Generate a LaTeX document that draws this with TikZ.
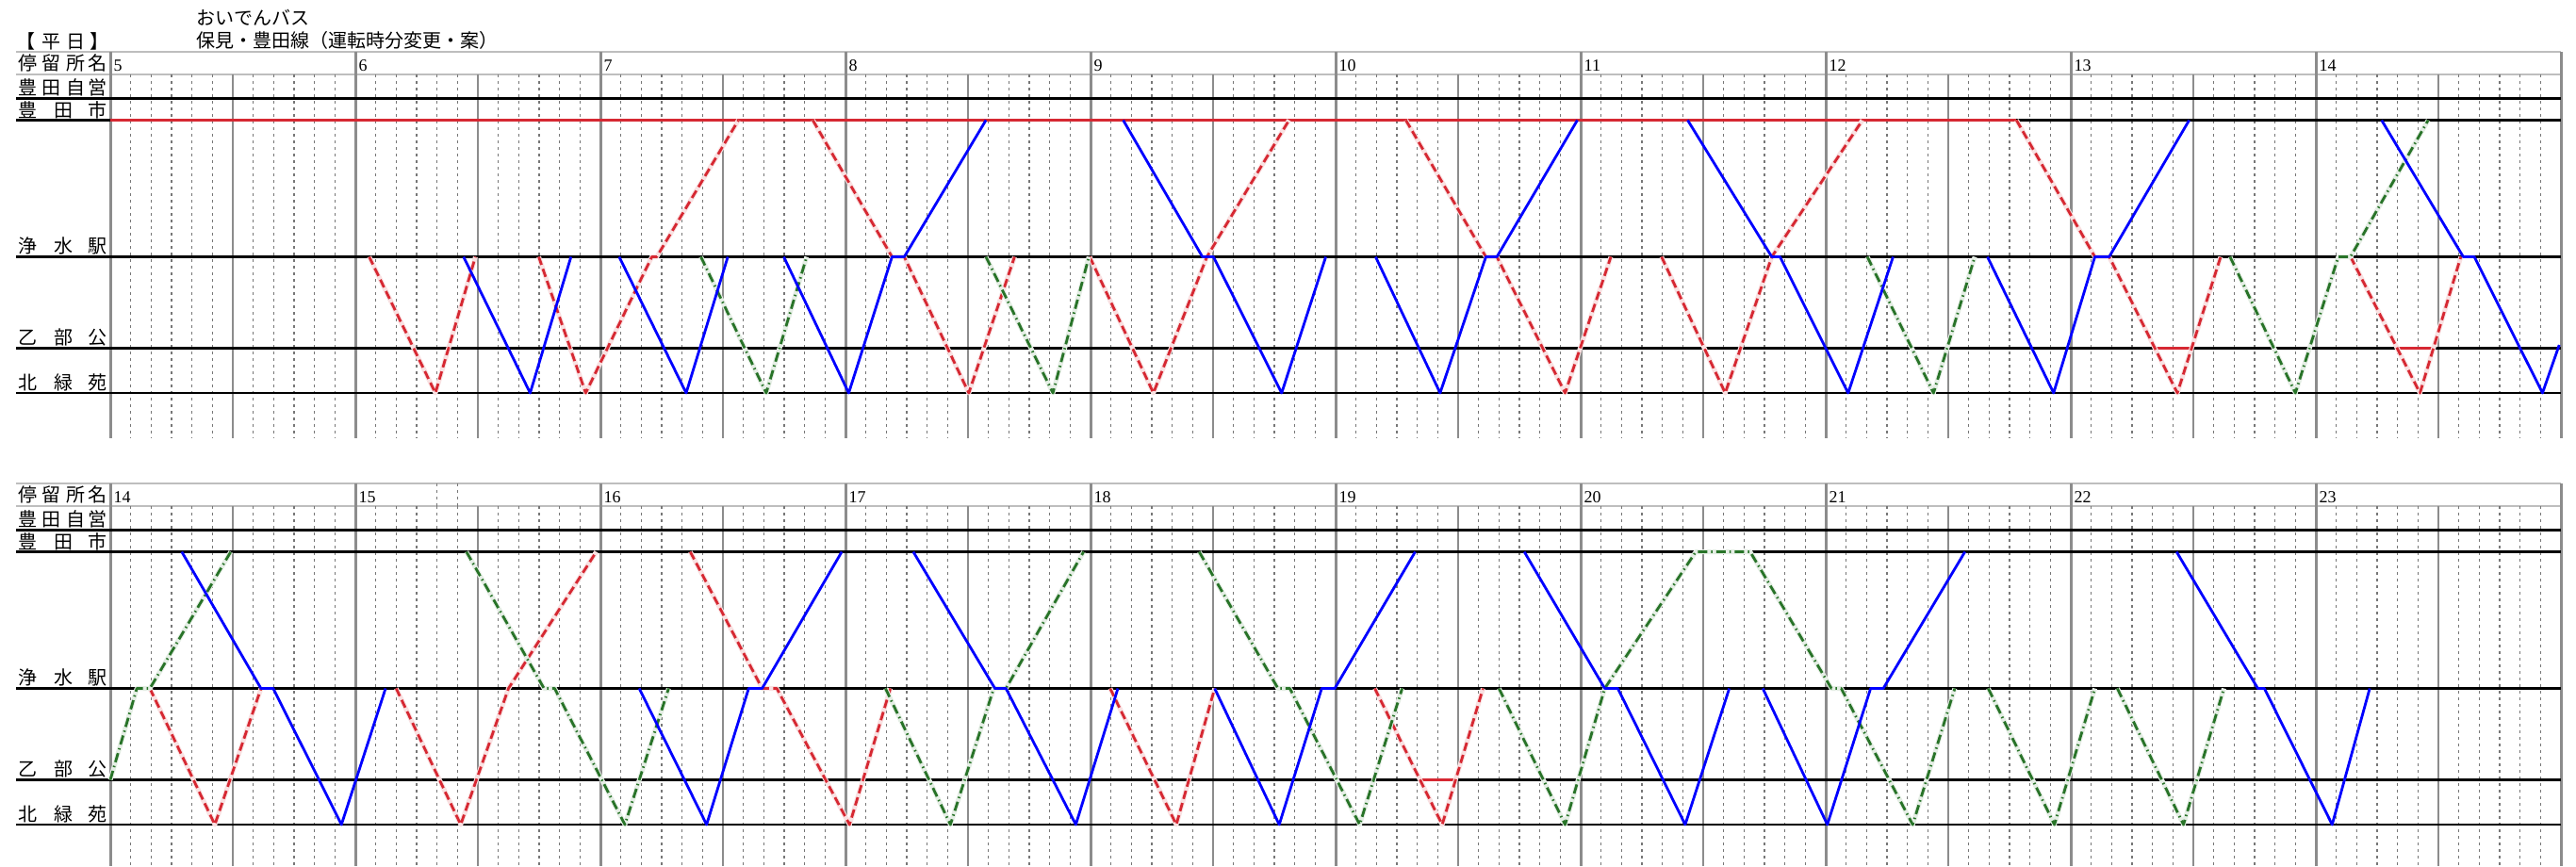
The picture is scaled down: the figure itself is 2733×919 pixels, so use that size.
\documentclass[tikz,border=0pt]{standalone}
\usepackage{fontspec}
\newfontfamily\jpf{Noto Sans CJK JP}
\newfontfamily\numf{Liberation Serif}
\definecolor{tripred}{RGB}{214,40,50}
\definecolor{tripgreen}{RGB}{40,115,40}
\definecolor{gridgray}{RGB}{140,140,140}
\definecolor{hdrgray}{RGB}{190,190,190}
\tikzset{
  jptext/.style={font=\jpf\fontsize{2.0mm}{2.3mm}\selectfont, inner sep=0pt, anchor=base},
  hournum/.style={font=\numf\fontsize{1.8mm}{2mm}\selectfont, inner sep=0pt, anchor=base west},
  hourline/.style={draw=gridgray, line width=0.3mm},
  halfline/.style={draw=gridgray, line width=0.16mm},
  dotline/.style={draw=gridgray!85!black, line width=0.13mm, dash pattern=on 0.27mm off 0.43mm},
  hdrline/.style={draw=hdrgray, line width=0.2mm},
  stline/.style={draw=black, line width=0.26mm},
  redstline/.style={draw=tripred, line width=0.26mm},
  bluetrip/.style={draw=blue, line width=0.28mm, line join=round},
  redtrip/.style={draw=tripred, line width=0.28mm, dash pattern=on 0.9mm off 0.45mm, line join=round},
  greentrip/.style={draw=tripgreen, line width=0.28mm, dash pattern=on 1.0mm off 0.4mm on 0.15mm off 0.4mm, line join=round},
  redhalo/.style={draw=tripred!14, line width=0.5mm, line join=round},
  greenhalo/.style={draw=tripgreen!12, line width=0.5mm, line join=round},
}
\def\yT{127.5}
\def\yJ{272.5}
\def\yO{369.5}
\def\yK{417}
\newcommand\rtrip[1]{\draw[redhalo] #1; \draw[redtrip] #1;}
\newcommand\gtrip[1]{\draw[greenhalo] #1; \draw[greentrip] #1;}
\newcommand\btrip[1]{\draw[bluetrip] #1;}
% #1 prefix, #2 first hour, #3 bottom y
\newcommand\gridpanel[3]{%
  \draw[hdrline] (17,55) -- (2717,55);
  \draw[hdrline] (17,79) -- (2717,79);
  \foreach \h in {0,...,9}{
    \foreach \k in {1,2,3,4,5,7,8,9,10,11}{
      \draw[dotline] ({117+260*\h+21.6667*\k},79) -- ({117+260*\h+21.6667*\k},#3);
    }
    \draw[halfline] ({117+260*\h+130},79) -- ({117+260*\h+130},#3);
  }
  \foreach \h in {0,...,10}{\draw[hourline] ({117+260*\h},55) -- ({117+260*\h},#3);}
  \foreach \h in {0,...,9}{\pgfmathtruncatemacro\hh{#2+\h}\node[hournum] (#1h\hh) at ({117+260*\h+3},75) {\hh};}
  % station labels
  \node[jptext] (#1a1) at (29.5,74.5) {停};
  \node[jptext] (#1a2) at (55,74.5) {留};
  \node[jptext] (#1a3) at (80,74.5) {所};
  \node[jptext] (#1a4) at (104,74.5) {名};
  \node[jptext] (#1b1) at (29.5,100.5) {豊};
  \node[jptext] (#1b2) at (55,100.5) {田};
  \node[jptext] (#1b3) at (80,100.5) {自};
  \node[jptext] (#1b4) at (104,100.5) {営};
  \node[jptext] (#1c1) at (29.5,124) {豊};
  \node[jptext] (#1c2) at (68,124) {田};
  \node[jptext] (#1c3) at (104,124) {市};
  \node[jptext] (#1d1) at (29.5,268.5) {浄};
  \node[jptext] (#1d2) at (68,268.5) {水};
  \node[jptext] (#1d3) at (104,268.5) {駅};
  \node[jptext] (#1e1) at (29.5,365.5) {乙};
  \node[jptext] (#1e2) at (68,365.5) {部};
  \node[jptext] (#1e3) at (104,365.5) {公};
  \node[jptext] (#1f1) at (29.5,413) {北};
  \node[jptext] (#1f2) at (68,413) {緑};
  \node[jptext] (#1f3) at (104,413) {苑};
  % station lines
  \draw[stline] (17,104.5) -- (2717,104.5);
  \draw[stline] (17,\yT) -- (117,\yT);
  \draw[stline] (17,\yJ) -- (2717,\yJ);
  \draw[stline] (17,\yO) -- (2717,\yO);
  \draw[stline] (17,\yK) -- (2717,\yK);
}
\begin{document}
\begin{tikzpicture}[x=0.1mm,y=-0.1mm]
\useasboundingbox (0,0) rectangle (2733,919);
\fill[white] (0,0) rectangle (2733,919);
% titles
\node[jptext, anchor=base west] (title1) at (208,26.5) {おいでんバス};
\node[jptext, anchor=base west] (title2) at (208,50.5) {保見・豊田線（運転時分変更・案）};
\node[jptext] (day1) at (27,51.5) {【};
\node[jptext] (day2) at (55,51.5) {平};
\node[jptext] (day3) at (80,51.5) {日};
\node[jptext] (day4) at (105,51.5) {】};

% ================= top panel: 5-15 =================
\gridpanel{t}{5}{465}
\begin{scope}[shift={(117,0)}, x=0.43333mm]
  \draw[redstline] (0,\yT) -- (466.7,\yT);
  \draw[stline] (466.7,\yT) -- (600,\yT);
  \draw[redstline] (500.6,\yO) -- (509.6,\yO);
  \draw[redstline] (559.9,\yO) -- (568.8,\yO);
  % red
  \rtrip{(63.4,\yJ) -- (79.6,\yK) -- (89.4,\yJ)}
  \rtrip{(104.9,\yJ) -- (116.4,\yK) -- (132.6,\yJ) -- (133.8,\yJ) -- (153.8,\yT)}
  \rtrip{(172,\yT) -- (191.4,\yJ) -- (194.4,\yJ) -- (210.2,\yK) -- (221.4,\yJ)}
  \rtrip{(239.8,\yJ) -- (255.4,\yK) -- (268.5,\yJ) -- (288.6,\yT)}
  \rtrip{(317.2,\yT) -- (336.8,\yJ) -- (339.5,\yJ) -- (356.2,\yK) -- (367.4,\yJ)}
  \rtrip{(379.8,\yJ) -- (395.4,\yK) -- (406.8,\yJ) -- (429,\yT)}
  \rtrip{(466.7,\yT) -- (485.9,\yJ) -- (489.4,\yJ) -- (506.1,\yK) -- (516.7,\yJ)}
  \rtrip{(548.5,\yJ) -- (565.5,\yK) -- (575.5,\yJ)}
  % green
  \gtrip{(144.6,\yJ) -- (160.6,\yK) -- (170.5,\yJ)}
  \gtrip{(214.4,\yJ) -- (230.8,\yK) -- (239.6,\yJ)}
  \gtrip{(430.2,\yJ) -- (446.4,\yK) -- (456.5,\yJ)}
  \gtrip{(519,\yJ) -- (535,\yK) -- (545.5,\yJ) -- (548.5,\yJ) -- (567.5,\yT)}
  % blue
  \btrip{(86.5,\yJ) -- (102.8,\yK) -- (112.8,\yJ)}
  \btrip{(124.6,\yJ) -- (141,\yK) -- (151.2,\yJ)}
  \btrip{(164.9,\yJ) -- (180.8,\yK) -- (191.4,\yJ) -- (194.4,\yJ) -- (214.4,\yT)}
  \btrip{(248,\yT) -- (267.4,\yJ) -- (270.1,\yJ) -- (286.8,\yK) -- (297.6,\yJ)}
  \btrip{(309.8,\yJ) -- (325.6,\yK) -- (336.8,\yJ) -- (339.5,\yJ) -- (359.2,\yT)}
  \btrip{(386.2,\yT) -- (406.8,\yJ) -- (408.8,\yJ) -- (425.5,\yK) -- (436.5,\yJ)}
  \btrip{(459.6,\yJ) -- (475.8,\yK) -- (485.9,\yJ) -- (489.4,\yJ) -- (509,\yT)}
  \btrip{(556.1,\yT) -- (576.1,\yJ) -- (578.8,\yJ) -- (595.5,\yK) -- (599.6,366)}
\end{scope}

% ================= bottom panel: 14-24 =================
\begin{scope}[shift={(0,458)}]
\gridpanel{b}{14}{461}
\draw[dotline] ({117+260+86.667},55) -- ({117+260+86.667},79);
\draw[dotline] ({117+260+108.333},55) -- ({117+260+108.333},79);
\begin{scope}[shift={(117,0)}, x=0.43333mm]
  \draw[stline] (0,\yT) -- (600,\yT);
  \draw[redstline] (320.7,\yO) -- (329.4,\yO);
  % red
  \rtrip{(9.7,\yJ) -- (25.6,\yK) -- (36.9,\yJ)}
  \rtrip{(70,\yJ) -- (85.8,\yK) -- (97.5,\yJ) -- (119,\yT)}
  \rtrip{(142,\yT) -- (159.6,\yJ) -- (163.2,\yJ) -- (181,\yK) -- (191,\yJ)}
  \rtrip{(244.8,\yJ) -- (261,\yK) -- (270.4,\yJ)}
  \rtrip{(309.6,\yJ) -- (326.1,\yK) -- (336.1,\yJ)}
  % green
  \gtrip{(0,\yO) -- (6.5,\yJ) -- (9.7,\yJ) -- (29.5,\yT)}
  \gtrip{(87.2,\yT) -- (106.2,\yJ) -- (108.8,\yJ) -- (126,\yK) -- (136.7,\yJ)}
  \gtrip{(189.8,\yJ) -- (205.7,\yK) -- (216.3,\yJ) -- (219.3,\yJ) -- (238.3,\yT)}
  \gtrip{(266.6,\yT) -- (285.9,\yJ) -- (288.8,\yJ) -- (305.9,\yK) -- (316.3,\yJ)}
  \gtrip{(340,\yJ) -- (356.2,\yK) -- (365.9,\yJ) -- (388.2,\yT) -- (401.5,\yT) -- (421.4,\yJ) -- (423.8,\yJ) -- (441.3,\yK) -- (451.6,\yJ)}
  \gtrip{(459.8,\yJ) -- (476,\yK) -- (485.9,\yJ)}
  \gtrip{(491.4,\yJ) -- (507.6,\yK) -- (517.5,\yJ)}
  % blue
  \btrip{(17.5,\yT) -- (36.9,\yJ) -- (39.9,\yJ) -- (56.6,\yK) -- (67.4,\yJ)}
  \btrip{(129.5,\yJ) -- (146,\yK) -- (156.3,\yJ) -- (159.6,\yJ) -- (179.1,\yT)}
  \btrip{(196.6,\yT) -- (216.6,\yJ) -- (219.3,\yJ) -- (236.4,\yK) -- (246.7,\yJ)}
  \btrip{(270.4,\yJ) -- (286.2,\yK) -- (296.6,\yJ) -- (299.8,\yJ) -- (319.5,\yT)}
  \btrip{(346.2,\yT) -- (365.9,\yJ) -- (369.1,\yJ) -- (385.6,\yK) -- (396.4,\yJ)}
  \btrip{(404.6,\yJ) -- (420.4,\yK) -- (431,\yJ) -- (434.1,\yJ) -- (454.1,\yT)}
  \btrip{(505.9,\yT) -- (525.8,\yJ) -- (527.4,\yJ) -- (544,\yK) -- (553.2,\yJ)}
\end{scope}
\end{scope}
\end{tikzpicture}
\end{document}
